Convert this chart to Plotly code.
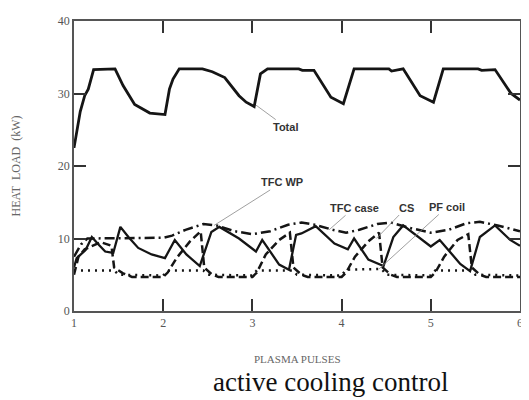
import plotly.graph_objects as go

# ---- data ----
total_x = [1.0, 1.03, 1.07, 1.12, 1.16, 1.22, 1.46, 1.55, 1.68, 1.85, 2.02, 2.07, 2.11, 2.18,
           2.44, 2.55, 2.69, 2.85, 2.93, 3.02, 3.09, 3.17, 3.52, 3.56, 3.69, 3.88, 4.02, 4.14,
           4.53, 4.56, 4.69, 4.88, 5.03, 5.14, 5.53, 5.57, 5.72, 5.90, 6.0]
total_y = [22.5, 24.5, 27.5, 29.7, 30.6, 33.3, 33.4, 31.1, 28.5, 27.3, 27.1, 30.6, 32.0, 33.4,
           33.4, 33.0, 32.2, 29.7, 28.8, 28.2, 32.7, 33.4, 33.4, 33.2, 33.2, 29.5, 28.6, 33.4,
           33.4, 33.1, 33.4, 29.7, 28.8, 33.4, 33.4, 33.2, 33.3, 30.0, 29.1]

solid_x = [1.0, 1.03, 1.13, 1.20, 1.28, 1.35, 1.44, 1.52, 1.61, 1.72, 1.87, 2.02, 2.13, 2.26,
           2.41, 2.54, 2.63, 2.85, 3.04, 3.11, 3.30, 3.41, 3.49, 3.55, 3.71, 3.92, 4.07, 4.14,
           4.30, 4.47, 4.58, 4.69, 5.00, 5.10, 5.33, 5.44, 5.55, 5.72, 5.89, 6.0]
solid_y = [6.0, 7.3, 8.4, 10.2, 9.1, 8.2, 8.0, 11.6, 10.2, 8.7, 7.8, 7.3, 9.8, 7.8,
           6.2, 10.9, 11.6, 10.0, 8.2, 9.8, 6.4, 5.7, 10.5, 10.7, 11.7, 9.3, 8.5, 10.0,
           7.1, 6.2, 10.2, 11.8, 8.9, 9.8, 6.5, 5.5, 10.2, 11.8, 9.8, 9.0]

dashdot_x = [1.0, 1.08, 1.15, 2.0, 2.1, 2.25, 2.45, 2.6, 2.8, 3.0, 3.2, 3.4, 3.55, 3.7, 3.9,
             4.05, 4.2, 4.4, 4.55, 4.75, 5.0, 5.2, 5.4, 5.55, 5.75, 6.0]
dashdot_y = [7.5, 9.2, 10.0, 10.1, 10.4, 11.2, 12.0, 11.8, 11.0, 10.6, 11.0, 11.9, 12.2, 11.9, 11.2,
             10.8, 11.2, 12.0, 12.2, 11.5, 10.8, 11.2, 12.1, 12.3, 11.8, 11.0]

dashed_x = [1.0, 1.05, 1.12, 1.30, 1.42, 1.45, 1.55, 1.65, 2.0,
            2.05, 2.15, 2.30, 2.42, 2.46, 2.55, 2.62, 3.0,
            3.05, 3.15, 3.30, 3.42, 3.46, 3.55, 3.62, 4.0,
            4.05, 4.15, 4.30, 4.42, 4.46, 4.55, 4.62, 5.0,
            5.05, 5.15, 5.30, 5.42, 5.46, 5.55, 5.62, 6.0]
dashed_y = [5.0, 7.5, 8.5, 9.5, 9.0, 6.0, 5.2, 4.7, 4.7,
            5.3, 7.3, 9.6, 11.0, 6.0, 5.0, 4.7, 4.7,
            5.3, 7.8, 9.8, 10.8, 6.0, 5.0, 4.7, 4.7,
            5.3, 7.5, 9.6, 10.8, 6.0, 5.0, 4.7, 4.7,
            5.3, 7.5, 9.8, 10.6, 6.0, 5.0, 4.7, 4.7]

dotted_x = [1.0, 1.45, 1.5, 2.0, 2.05, 2.45, 2.5, 3.0, 3.05, 3.45, 3.5, 4.0, 4.05, 4.45, 4.5,
            5.0, 5.05, 5.45, 5.5, 6.0]
dotted_y = [5.6, 5.6, 5.0, 4.9, 5.6, 5.6, 5.0, 4.9, 5.6, 5.6, 5.0, 4.9, 5.7, 5.8, 5.0,
            4.9, 5.6, 5.6, 5.0, 4.9]

x_ticks = [1, 2, 3, 4, 5, 6]
y_ticks = [0, 10, 20, 30, 40]

labels = ["Total", "TFC WP", "TFC case", "CS", "PF coil"]
label_tip_x = [3.04, 2.57, 3.86, 4.39, 4.42]
label_tip_y = [28.4, 11.8, 11.2, 10.0, 5.8]

INK = "#151515"
fig = go.Figure()
fig.add_trace(go.Scatter(x=dotted_x, y=dotted_y, mode="lines",
                         line=dict(color=INK, width=2.5, dash="2px,5px")))
fig.add_trace(go.Scatter(x=dashed_x, y=dashed_y, mode="lines",
                         line=dict(color=INK, width=2.5, dash="8px,4px")))
fig.add_trace(go.Scatter(x=dashdot_x, y=dashdot_y, mode="lines",
                         line=dict(color=INK, width=2.5, dash="10px,4px,2px,4px")))
fig.add_trace(go.Scatter(x=solid_x, y=solid_y, mode="lines",
                         line=dict(color=INK, width=2.3)))
fig.add_trace(go.Scatter(x=total_x, y=total_y, mode="lines",
                         line=dict(color=INK, width=2.8)))

offsets = [(30, 22), (68, -43), (25, -22), (30, -31), (68, -62)]
for lab, tx, ty, (ax, ay) in zip(labels, label_tip_x, label_tip_y, offsets):
    fig.add_annotation(x=tx, y=ty, text="<b>%s</b>" % lab, showarrow=True, arrowhead=0,
                       arrowwidth=0.8, arrowcolor="#888", ax=ax, ay=ay,
                       font=dict(family="Liberation Sans, Arial", size=11, color="#333"))

fig.add_annotation(x=0.5, y=-0.165, xref="paper", yref="paper", text="PLASMA PULSES",
                   showarrow=False, xanchor="center", yanchor="middle",
                   font=dict(family="Liberation Serif", size=11, color="#666"))
fig.add_annotation(x=0.576, y=-0.245, xref="paper", yref="paper", text="active cooling control",
                   showarrow=False, xanchor="center", yanchor="middle",
                   font=dict(family="Liberation Serif", size=27, color="#111"))

axis_common = dict(showline=True, linecolor="#555", linewidth=1.6, mirror="allticks",
                   ticks="inside", ticklen=12, tickwidth=1.5, tickcolor="#333",
                   showgrid=False, zeroline=False,
                   tickfont=dict(family="Liberation Serif", size=12, color="#555"))
fig.update_xaxes(range=[1, 6], tickvals=x_ticks, ticktext=[str(v) for v in x_ticks], **axis_common)
fig.update_yaxes(range=[0, 40], tickvals=y_ticks, ticktext=[str(v) for v in y_ticks],
                 title=dict(text="HEAT  LOAD  (kW)", standoff=35,
                            font=dict(family="Liberation Serif", size=12, color="#666")),
                 **axis_common)
fig.update_layout(width=521, height=392, margin=dict(l=66, r=7, t=6, b=89),
                  plot_bgcolor="white", paper_bgcolor="white", showlegend=False)
fig.write_html("out.html")
